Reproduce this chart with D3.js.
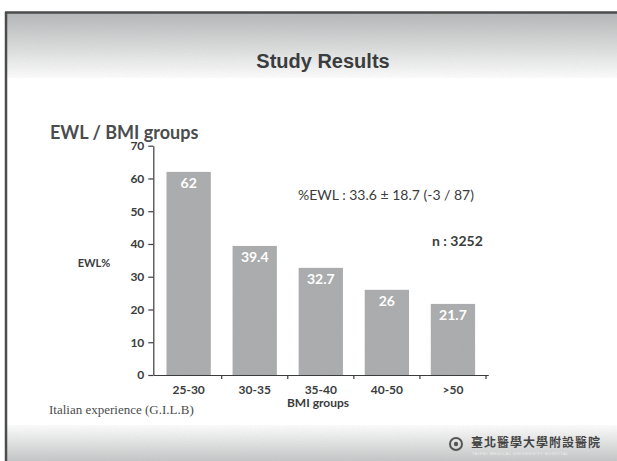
<!DOCTYPE html>
<html>
<head>
<meta charset="utf-8">
<script src="https://cdn.jsdelivr.net/npm/d3@7/dist/d3.min.js"></script>
<style>
  html, body { margin: 0; padding: 0; background: #fff; }
  svg { display: block; }
</style>
</head>
<body>
<svg id="chart" width="617" height="461"></svg>
<script>
// ---- data ----
const categories = ["25-30", "30-35", "35-40", "40-50", ">50"];
const ewlValues = [62, 39.4, 32.7, 26, 21.7];
const valueLabels = ["62", "39.4", "32.7", "26", "21.7"];
const yTicks = [0, 10, 20, 30, 40, 50, 60, 70];
const slideTitle = "Study Results";
const chartTitle = "EWL / BMI groups";
const yLabel = "EWL%";
const xLabel = "BMI groups";
const statText = "%EWL : 33.6 \u00B1 18.7 (-3 / 87)";
const nText = "n : 3252";
const sourceText = "Italian experience (G.I.L.B)";
const logoText = "臺北醫學大學附設醫院";
const logoSub = "TAIPEI MEDICAL UNIVERSITY HOSPITAL";

const svg = d3.select("#chart");
const W = 617, H = 461;
const chartFont = "Lato, 'Open Sans', sans-serif";

const defs = svg.append("defs");
const gTop = defs.append("linearGradient").attr("id", "gTop").attr("x1", 0).attr("y1", 0).attr("x2", 0).attr("y2", 1);
gTop.append("stop").attr("offset", "0%").attr("stop-color", "#b4b6b7");
gTop.append("stop").attr("offset", "55%").attr("stop-color", "#dcdddd");
gTop.append("stop").attr("offset", "100%").attr("stop-color", "#ffffff");
const gBot = defs.append("linearGradient").attr("id", "gBot").attr("x1", 0).attr("y1", 0).attr("x2", 0).attr("y2", 1);
gBot.append("stop").attr("offset", "0%").attr("stop-color", "#ffffff");
gBot.append("stop").attr("offset", "60%").attr("stop-color", "#dcdddd");
gBot.append("stop").attr("offset", "100%").attr("stop-color", "#c4c6c7");
const noise = defs.append("filter").attr("id", "noise").attr("x", 0).attr("y", 0).attr("width", "100%").attr("height", "100%");
noise.append("feTurbulence").attr("type", "fractalNoise").attr("baseFrequency", 0.9).attr("numOctaves", 2).attr("seed", 3).attr("result", "t");
noise.append("feColorMatrix").attr("in", "t").attr("type", "matrix")
  .attr("values", "0 0 0 0 0.5  0 0 0 0 0.5  0 0 0 0 0.5  0 0 0 0.18 0").attr("result", "n");
noise.append("feComposite").attr("in", "n").attr("in2", "SourceGraphic").attr("operator", "in").attr("result", "nn");
noise.append("feMerge").selectAll("feMergeNode").data(["SourceGraphic", "nn"]).join("feMergeNode").attr("in", d => d);

// background
svg.append("rect").attr("width", W).attr("height", H).attr("fill", "#fff");
svg.append("rect").attr("x", 6).attr("y", 13).attr("width", W - 6).attr("height", 65).attr("fill", "url(#gTop)").attr("filter", "url(#noise)");
svg.append("rect").attr("x", 6).attr("y", 425).attr("width", W - 6).attr("height", 36).attr("fill", "url(#gBot)").attr("filter", "url(#noise)");
// frame lines
svg.append("line").attr("x1", 5).attr("x2", W).attr("y1", 12.5).attr("y2", 12.5).attr("stroke", "#4a4c4d").attr("stroke-width", 2.5);
svg.append("line").attr("x1", 6).attr("x2", 6).attr("y1", 12).attr("y2", H).attr("stroke", "#4a4c4d").attr("stroke-width", 2.5);

// slide title
svg.append("text").attr("x", 323).attr("y", 68).attr("text-anchor", "middle")
  .attr("font-family", "'Liberation Sans', Arial, sans-serif").attr("font-weight", "bold")
  .attr("font-size", 20).attr("fill", "#3a3c3d").text(slideTitle);

// chart title
svg.append("text").attr("x", 50).attr("y", 139)
  .attr("font-family", chartFont).attr("font-weight", "bold").attr("font-size", 18)
  .attr("fill", "#4a4c4d").text(chartTitle);

// scales
const y = d3.scaleLinear().domain([0, 70]).range([375, 145.7]);
const x = d3.scaleBand().domain(categories).range([153.3, 488.3]).paddingInner(0.33).paddingOuter(0.2);

// bars
svg.append("g").selectAll("rect").data(ewlValues).join("rect")
  .attr("x", (d, i) => x(categories[i]))
  .attr("y", d => y(d))
  .attr("width", x.bandwidth())
  .attr("height", d => y(0) - y(d))
  .attr("fill", "#a9aaab")
  .attr("filter", "url(#noise)");

// value labels
svg.append("g").selectAll("text").data(ewlValues).join("text")
  .attr("x", (d, i) => x(categories[i]) + x.bandwidth() / 2)
  .attr("y", d => y(d) + 16)
  .attr("text-anchor", "middle")
  .attr("font-family", chartFont).attr("font-weight", "bold").attr("font-size", 14)
  .attr("fill", "#ffffff")
  .text((d, i) => valueLabels[i]);

// y axis
const yAxis = svg.append("g").attr("transform", "translate(153.3,0)")
  .call(d3.axisLeft(y).tickValues(yTicks).tickSize(5).tickPadding(4).tickSizeOuter(0));
yAxis.selectAll("text").attr("font-family", chartFont).attr("font-weight", "bold").attr("font-size", 12).attr("fill", "#3a3c3d");
yAxis.selectAll("line, path").attr("stroke", "#3a3c3d").attr("stroke-width", 1.2);

// x axis
const xAxis = svg.append("g").attr("transform", "translate(0,375)")
  .call(d3.axisBottom(x).tickSize(0).tickPadding(10).tickSizeOuter(0));
xAxis.select("path").attr("stroke", "#3a3c3d").attr("stroke-width", 1.2);
xAxis.selectAll("text").attr("font-family", chartFont).attr("font-weight", "bold").attr("font-size", 12).attr("fill", "#3a3c3d");
// boundary tick marks between categories
const step = x.step();
const bounds = categories.map(c => x(c) + x.bandwidth() + (step - x.bandwidth()) / 2);
svg.append("g").selectAll("line").data(bounds).join("line")
  .attr("x1", d => d).attr("x2", d => d)
  .attr("y1", 375).attr("y2", 379)
  .attr("stroke", "#3a3c3d").attr("stroke-width", 1.2);

// axis titles
svg.append("text").attr("x", 94).attr("y", 267).attr("text-anchor", "middle")
  .attr("font-family", chartFont).attr("font-weight", "bold").attr("font-size", 11)
  .attr("fill", "#3a3c3d").text(yLabel);
svg.append("text").attr("x", 318).attr("y", 407).attr("text-anchor", "middle")
  .attr("font-family", chartFont).attr("font-weight", "bold").attr("font-size", 12)
  .attr("fill", "#3a3c3d").text(xLabel);

// annotations
svg.append("text").attr("x", 298).attr("y", 200)
  .attr("font-family", chartFont).attr("font-size", 14)
  .attr("fill", "#3a3c3d").text(statText);
svg.append("text").attr("x", 432).attr("y", 246)
  .attr("font-family", chartFont).attr("font-weight", "bold").attr("font-size", 14)
  .attr("fill", "#3a3c3d").text(nText);

// source
svg.append("text").attr("x", 49).attr("y", 414)
  .attr("font-family", "'Liberation Serif', 'Times New Roman', serif").attr("font-size", 13)
  .attr("fill", "#4a4c4d").text(sourceText);

// logo
const logo = svg.append("g");
logo.append("circle").attr("cx", 456).attr("cy", 444).attr("r", 6).attr("fill", "none").attr("stroke", "#555", ).attr("stroke-width", 2);
logo.append("circle").attr("cx", 456).attr("cy", 444).attr("r", 2.2).attr("fill", "#555");
logo.append("text").attr("x", 471).attr("y", 447)
  .attr("font-family", "'Noto Sans CJK TC', sans-serif").attr("font-weight", "bold").attr("font-size", 12)
  .attr("letter-spacing", 1).attr("fill", "#444").text(logoText);
logo.append("text").attr("x", 472).attr("y", 455)
  .attr("font-family", "'Liberation Sans', sans-serif").attr("font-size", 4)
  .attr("letter-spacing", 0.6).attr("fill", "#eee").text(logoSub);
</script>
</body>
</html>
